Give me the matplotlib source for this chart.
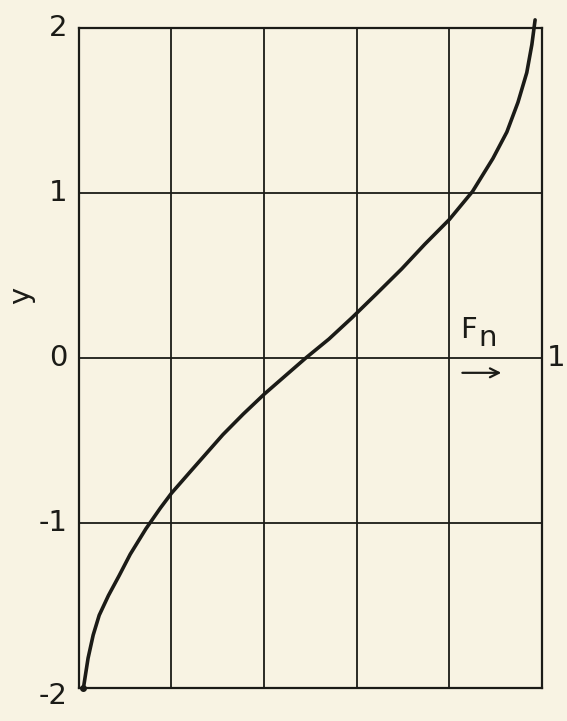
import matplotlib
matplotlib.use("Agg")
import matplotlib.pyplot as plt

# values (Fn, y)
fn = [0.01, 0.02, 0.031, 0.044, 0.064, 0.087, 0.111, 0.145, 0.176, 0.2,
      0.242, 0.311, 0.355, 0.40, 0.447, 0.49, 0.54, 0.59, 0.643, 0.697,
      0.747, 0.8, 0.85, 0.894, 0.924, 0.948, 0.967, 0.978, 0.985]
y = [-2.0, -1.82, -1.68, -1.56, -1.44, -1.32, -1.19, -1.035, -0.91, -0.82,
     -0.685, -0.465, -0.34, -0.22, -0.105, 0.0, 0.115, 0.245, 0.39, 0.54,
     0.69, 0.84, 1.01, 1.21, 1.37, 1.55, 1.73, 1.9, 2.05]

x_grid = [0, 0.2, 0.4, 0.6, 0.8, 1.0]
y_ticks = [-2, -1, 0, 1, 2]
y_labels = ["-2", "-1", "0", "1", "2"]

bg = "#f8f3e3"
ink = "#1b1b17"

fig = plt.figure(figsize=(5.67, 7.21), dpi=100, facecolor=bg)
ax = fig.add_axes([0.139, 0.046, 0.817, 0.915], facecolor=bg)

ax.set_xlim(0, 1)
ax.set_ylim(-2, 2)
ax.set_xticks(x_grid)
ax.set_xticklabels([])
ax.set_yticks(y_ticks)
ax.set_yticklabels([])
ax.tick_params(length=0)
ax.grid(True, color=ink, linewidth=1.3)
for s in ax.spines.values():
    s.set_color(ink)
    s.set_linewidth(1.6)

# tick labels by hand, the bottom one sits a little low in the original
for t, lab in zip(y_ticks, y_labels):
    dy = -0.05 if t == -2 else 0
    ax.text(-0.025, t + dy, lab, fontsize=21, color=ink, ha="right", va="center",
            clip_on=False)

# curve
ax.plot(fn, y, color=ink, linewidth=2.6, solid_capstyle="round",
        solid_joinstyle="round", clip_on=False, zorder=3)
ax.plot([fn[0]], [y[0]], "o", color=ink, markersize=4, clip_on=False, zorder=4)

# annotations
ax.text(-0.125, 0.38, "y", fontsize=21, color=ink, rotation=90,
        ha="center", va="center")
ax.text(0.841, 0.17, "F", fontsize=21, color=ink, ha="center", va="center")
ax.text(0.882, 0.12, "n", fontsize=21, color=ink, ha="center", va="center")
ax.annotate("", xy=(0.918, -0.09), xytext=(0.822, -0.09),
            arrowprops=dict(arrowstyle="->", color=ink, lw=1.6,
                            mutation_scale=16))
ax.text(1.03, 0.0, "1", fontsize=21, color=ink, ha="center", va="center",
        clip_on=False)

fig.savefig("out.png", dpi=100, facecolor=bg)
